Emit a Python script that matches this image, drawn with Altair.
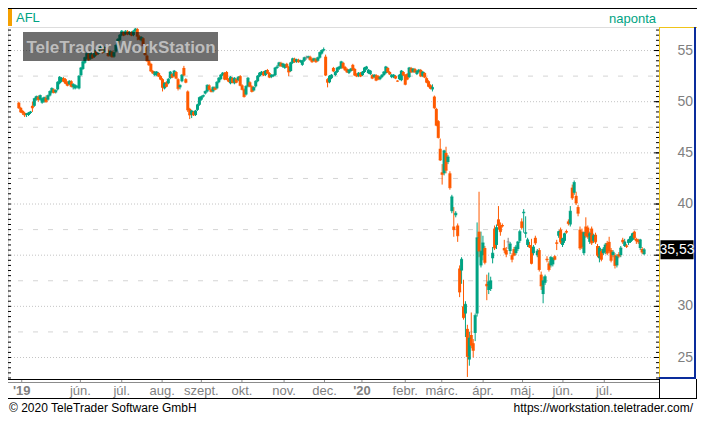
import altair as alt
import pandas as pd
import numpy as np

# ---------------- data ----------------
opens = [
49.9,49.4,49.1,48.9,48.7,48.7,48.9,49.6,49.6,50.2,
50.5,50.2,49.9,50.0,50.4,50.2,50.6,50.9,51.2,50.9,
51.2,51.8,52.0,52.3,52.2,51.9,51.7,52.0,51.4,51.3,
51.4,51.3,52.6,53.2,53.8,54.2,54.7,54.2,54.6,54.4,
55.0,54.7,55.1,55.2,54.9,55.3,55.0,54.5,54.9,54.4,
54.9,55.5,56.0,56.5,56.8,56.6,56.9,56.6,56.8,56.5,
56.9,57.1,56.4,56.0,56.2,55.5,54.5,54.0,53.7,53.0,
52.6,52.6,52.8,52.5,52.2,51.3,51.9,51.8,52.3,52.7,
52.5,52.9,52.2,51.4,52.0,53.3,52.2,51.0,49.3,48.7,
49.0,48.7,49.2,49.7,50.2,50.5,50.8,51.0,51.6,51.2,
51.0,51.4,51.3,51.9,52.2,52.6,52.8,52.9,52.2,51.8,
52.3,51.8,52.2,52.1,52.5,51.6,51.2,50.7,51.5,51.9,
51.5,51.1,51.5,52.0,52.5,52.7,52.9,52.6,53.1,52.8,
52.4,52.5,52.6,53.3,53.5,53.8,53.4,53.3,53.7,53.4,
53.0,53.8,54.2,53.9,54.1,53.9,53.6,54.0,54.3,54.3,
54.4,54.2,54.0,54.2,54.0,54.3,54.7,55.0,54.4,52.2,
51.9,52.3,53.3,52.6,52.9,53.2,53.3,53.8,53.4,53.2,
52.8,53.0,53.6,53.2,52.7,52.5,52.8,52.6,52.9,53.2,
52.8,52.7,52.6,52.4,52.6,52.5,52.2,52.4,52.6,52.8,
53.3,52.9,52.4,52.4,52.5,52.05,52.2,52.1,52.9,52.6,
52.7,52.4,53.3,52.9,53.2,52.7,52.9,53.1,52.5,52.8,
52.3,52.0,51.6,51.2,50.5,49.3,48.1,45.4,43.1,43.0,
45.0,44.1,43.0,39.3,37.8,38.9,37.9,33.7,33.5,30.0,
29.3,27.8,24.8,27.2,26.4,27.4,29.3,37.3,34.0,35.0,
35.7,32.2,31.6,31.7,34.7,37.6,36.0,38.5,37.9,37.95,
35.7,35.5,36.3,35.4,35.0,35.6,35.2,35.6,36.4,38.3,
39.1,37.1,36.0,36.0,35.8,35.2,36.7,35.0,35.5,33.1,
31.2,32.3,34.65,34.2,34.0,34.1,34.9,36.25,36.9,37.5,
36.0,36.4,37.35,38.3,38.0,41.6,41.1,40.8,39.7,37.5,
37.3,35.2,37.8,37.7,36.3,37.6,36.4,37.0,35.9,34.7,
35.4,35.2,35.3,36.2,36.3,35.5,35.0,35.0,34.0,35.1,
35.0,36.5,35.9,35.95,36.2,36.3,36.5,37.3,36.6,36.5,
35.7,35.6,35.1]

highs = [
50.0,49.5,49.2,49.0,48.9,49.0,49.1,50.0,50.4,50.6,
50.6,50.7,50.4,50.5,50.6,50.7,51.1,51.4,51.3,51.2,
52.0,52.5,52.4,52.4,52.3,52.0,52.1,52.1,51.8,51.7,
51.6,52.6,53.4,54.0,54.4,54.8,54.8,54.9,54.7,55.1,
55.2,55.2,55.5,55.3,55.4,55.4,55.1,55.0,55.0,54.9,
55.6,56.2,56.6,57.0,56.9,57.0,57.0,56.9,56.9,57.0,
57.2,57.2,56.5,56.4,56.3,55.6,54.6,54.1,53.8,53.1,
53.0,53.0,52.9,52.6,52.3,51.9,52.0,52.3,53.0,52.8,
53.1,53.0,52.3,51.7,52.7,53.5,52.3,51.1,49.4,49.2,
49.1,49.2,49.8,50.5,50.6,50.7,51.1,51.7,51.7,51.3,
51.5,51.5,52.0,52.4,52.7,52.9,52.9,53.0,52.3,52.5,
52.4,52.4,52.3,52.5,52.6,51.7,51.3,51.6,52.4,52.0,
51.6,51.5,52.1,52.6,52.9,53.0,53.0,53.1,53.2,52.9,
52.7,52.7,53.4,53.6,53.9,53.9,53.8,53.7,53.8,53.5,
53.9,54.3,54.3,54.2,54.2,54.1,54.1,54.4,54.5,54.5,
54.5,54.3,54.3,54.3,54.4,54.9,55.1,55.3,54.6,52.3,
52.6,52.7,53.4,53.0,53.4,53.5,54.0,53.9,53.5,53.3,
53.2,53.3,53.7,53.3,52.8,52.9,52.9,53.0,53.4,53.5,
53.2,53.1,52.7,52.7,52.7,52.6,52.5,52.7,53.0,53.5,
53.4,53.0,52.7,52.7,52.6,52.1,52.7,53.1,53.0,52.7,
52.8,53.4,53.4,53.3,53.3,53.1,53.2,53.2,53.0,52.9,
52.4,52.1,51.7,51.7,50.6,49.4,48.2,46.4,43.9,45.3,
45.6,44.8,43.2,40.9,39.7,39.3,38.1,34.0,34.8,32.6,
30.5,28.2,27.5,29.4,26.8,29.3,38.2,41.2,37.3,36.9,
35.9,33.1,33.3,32.9,35.8,37.9,38.0,39.8,38.2,38.1,
36.5,35.8,36.7,36.3,35.2,35.8,36.0,36.4,37.5,38.6,
39.5,38.8,36.7,36.3,36.6,36.0,36.9,35.6,35.7,33.4,
32.9,33.1,34.9,34.4,34.9,34.8,35.0,36.5,37.4,37.7,
36.7,37.2,37.5,38.5,39.8,41.9,42.3,41.2,39.9,37.8,
37.6,37.3,38.7,37.9,37.3,37.8,37.1,37.2,36.1,35.9,
35.6,35.8,36.2,36.4,36.8,35.7,35.5,35.2,35.1,35.3,
35.9,36.7,36.6,36.1,36.6,36.9,37.2,37.4,36.7,36.6,
36.6,35.8,35.7]

lows = [
49.3,48.9,48.7,48.5,48.5,48.6,48.8,49.0,49.5,50.1,
50.0,50.1,49.8,49.9,49.9,50.1,50.5,50.8,50.8,50.8,
51.1,51.7,51.9,51.9,51.7,51.5,51.6,51.4,51.2,51.2,
51.3,51.2,52.5,53.1,53.7,54.1,54.0,54.1,54.2,54.3,
54.5,54.6,55.0,54.7,54.8,54.9,54.4,54.4,54.3,54.3,
54.8,55.4,55.9,56.4,56.4,56.5,56.5,56.5,56.4,56.4,
56.8,56.0,56.0,55.9,55.4,54.5,53.9,53.5,52.9,52.7,
52.5,52.5,52.4,52.1,51.0,51.2,51.4,51.7,52.2,52.3,
52.4,52.2,51.1,51.2,51.9,52.5,51.8,49.0,48.3,48.4,
48.6,48.6,49.1,49.6,50.1,50.4,50.7,50.9,51.1,50.9,
50.9,51.1,51.2,51.8,52.1,52.5,52.1,52.1,51.9,51.7,
51.8,51.7,51.8,52.0,51.5,51.1,50.4,50.6,51.4,51.4,
50.9,51.0,51.4,51.9,52.4,52.6,52.5,52.5,52.7,52.3,
52.3,52.4,52.5,53.2,53.4,53.4,53.3,53.2,53.3,52.5,
52.9,53.7,53.8,53.8,53.8,53.8,53.5,53.9,54.1,54.2,
54.0,53.8,53.9,53.8,53.9,54.2,54.6,54.9,52.5,51.4,
51.8,52.2,52.9,52.5,52.8,53.1,53.2,53.2,53.0,52.8,
52.7,52.9,53.0,52.5,52.4,52.4,52.4,52.5,52.8,53.1,
52.7,52.6,52.2,52.3,52.0,52.1,52.1,52.3,52.5,52.7,
52.8,52.6,52.3,52.3,52.2,51.95,52.1,52.0,52.5,51.6,
52.1,52.3,52.8,52.8,52.8,52.6,52.8,52.4,52.4,52.3,
51.8,51.4,51.2,51.0,49.3,47.6,46.4,44.2,41.9,42.8,
43.0,43.9,41.4,39.1,36.8,38.7,36.3,30.9,32.2,28.7,
27.0,23.1,24.2,25.9,25.0,26.6,29.0,34.8,33.8,34.5,
34.1,30.6,31.2,31.5,34.2,35.5,35.6,37.5,36.9,37.7,
35.2,34.8,35.6,35.1,34.3,34.9,35.0,35.4,36.2,37.5,
37.2,36.7,35.8,35.7,34.1,35.0,36.0,34.8,33.4,31.6,
30.3,32.1,34.3,33.4,33.8,33.9,34.5,35.5,36.7,36.1,
35.8,36.2,37.1,37.9,37.8,40.4,40.9,39.9,38.8,35.5,
35.6,35.0,36.7,36.6,36.1,36.0,36.2,36.1,34.8,34.3,
34.4,35.0,35.1,35.0,35.2,34.3,34.8,33.7,33.8,34.7,
34.8,36.1,35.8,35.7,36.0,36.2,36.4,36.5,36.1,36.1,
35.5,35.1,35.0]

closes = [
49.4,49.0,48.9,48.7,48.8,48.9,49.0,49.4,50.3,50.5,
50.2,50.6,50.3,50.4,50.0,50.6,51.0,51.3,50.9,51.1,
51.9,52.4,52.3,52.0,51.8,51.6,52.0,51.5,51.7,51.6,
51.5,52.5,53.3,53.9,54.3,54.7,54.1,54.8,54.3,55.0,
54.6,55.1,55.3,54.8,55.3,55.0,54.5,54.9,54.4,54.8,
55.5,56.1,56.5,56.9,56.5,56.9,56.6,56.8,56.5,56.9,
57.1,56.4,56.1,56.3,55.5,54.6,54.0,53.6,53.0,52.8,
52.9,52.9,52.5,52.2,51.4,51.8,51.5,52.2,52.9,52.4,
53.0,52.3,51.3,51.6,52.6,52.6,51.9,49.2,48.7,49.1,
48.7,49.1,49.7,50.4,50.5,50.6,51.0,51.6,51.2,51.0,
51.4,51.2,51.9,52.3,52.6,52.8,52.2,52.2,52.0,52.4,
51.9,52.3,51.9,52.4,51.6,51.2,50.5,51.5,52.3,51.5,
51.0,51.4,52.0,52.5,52.8,52.9,52.6,53.0,52.8,52.4,
52.6,52.6,53.3,53.4,53.8,53.5,53.7,53.6,53.4,52.9,
53.8,54.2,53.9,54.1,53.9,54.0,54.0,54.3,54.3,54.4,
54.1,53.9,54.2,53.9,54.3,54.8,55.0,55.1,52.6,51.9,
52.5,52.6,53.0,52.9,53.3,53.4,53.9,53.3,53.1,52.9,
53.1,53.2,53.1,52.6,52.5,52.8,52.5,52.9,53.3,53.4,
53.1,53.0,52.3,52.6,52.1,52.2,52.4,52.6,52.9,53.4,
52.9,52.7,52.6,52.6,52.3,52.0,52.6,53.0,52.6,51.7,
52.2,53.3,52.9,53.2,52.9,53.0,53.1,52.5,52.9,52.4,
51.9,51.5,51.3,51.4,49.4,47.7,46.5,44.3,42.9,45.2,
43.3,44.6,41.6,40.7,37.5,39.1,36.9,31.4,34.6,28.9,
30.2,25.1,26.9,26.2,25.7,29.1,36.7,35.4,35.4,36.2,
34.3,32.0,32.4,32.5,35.2,35.7,37.7,37.9,37.3,37.85,
35.5,35.1,36.3,36.1,34.6,35.0,35.8,36.3,37.3,37.7,
39.2,37.2,36.5,35.8,34.2,35.8,36.2,35.4,33.6,32.0,
32.5,32.9,34.55,33.6,34.8,34.7,34.6,36.15,37.3,36.3,
36.6,37.1,37.25,38.1,39.3,40.6,42.1,40.1,39.1,35.7,
35.8,37.2,36.9,36.8,37.1,36.2,36.9,36.3,35.0,35.7,
34.6,35.6,36.0,35.2,35.4,34.5,35.3,34.0,34.9,34.9,
35.7,36.3,36.3,35.85,36.5,36.8,37.1,36.7,36.4,36.3,
36.5,35.3,35.53]

last_price = 35.53
last_label = "35,53"
# the 35 label sits under the last-price box in the reference
y_labels = [25, 30, 40, 45, 50, 55]
grid_major = [25, 30, 35, 40, 45, 50, 55]
grid_minor = [27.5, 32.5, 37.5, 42.5, 47.5, 52.5]
month_pos = [1.5, 31.7, 53.0, 73.8, 94.0, 114.9, 136.6, 157.4, 176.7, 199.0,
             217.8, 239.1, 259.4, 280.2, 301.5]
month_lbl = ["'19", "jún.", "júl.", "aug.", "szept.", "okt.", "nov.", "dec.",
             "'20", "febr.", "márc.", "ápr.", "máj.", "jún.", "júl."]
month_year = [True, False, False, False, False, False, False, False,
              True, False, False, False, False, False, False]

# ---------------- styling ----------------
TEAL = "#00A383"
ORANGE = "#FF5A00"
DOJI = "#808080"
LABEL_GRAY = "#7f7f7f"
FONT = "Liberation Sans"
W, H = 651, 352          # plot area
PANEL = 38               # right axis panel width

n = min(len(opens), len(highs), len(lows), len(closes))
df = pd.DataFrame({
    "i": np.arange(n),
    "open": opens[:n], "high": highs[:n], "low": lows[:n], "close": closes[:n],
})
df["dir"] = np.where(df["close"] > df["open"], "up",
                     np.where(df["close"] < df["open"], "down", "flat"))

xscale = alt.Scale(domain=[-3, 327.1], nice=False, zero=False)
yscale = alt.Scale(domain=[22.9, 57.3], nice=False, zero=False)
cscale = alt.Scale(domain=["up", "down", "flat"], range=[TEAL, ORANGE, DOJI])

one = pd.DataFrame({"a": [0]})

# grid lines
g_major = alt.Chart(pd.DataFrame({"v": grid_major})).mark_rule(
    color="#c4c4c4", strokeDash=[1, 2], strokeWidth=1).encode(
    y=alt.Y("v:Q", scale=yscale, axis=None), x=alt.value(0), x2=alt.value(W))
g_minor = alt.Chart(pd.DataFrame({"v": grid_minor})).mark_rule(
    color="#d4d4d4", strokeDash=[5, 10], strokeWidth=1).encode(
    y=alt.Y("v:Q", scale=yscale, axis=None), x=alt.value(10), x2=alt.value(W))

base = alt.Chart(df).encode(x=alt.X("i:Q", scale=xscale, axis=None))
wicks = base.mark_rule(strokeWidth=1).encode(
    y=alt.Y("low:Q", scale=yscale, axis=None), y2="high:Q",
    color=alt.Color("dir:N", scale=cscale, legend=None))
bodies = base.mark_bar(size=3).encode(
    y=alt.Y("open:Q", scale=yscale, axis=None), y2="close:Q",
    color=alt.Color("dir:N", scale=cscale, legend=None))
closes_tick = base.mark_tick(orient="horizontal", size=3, thickness=1).encode(
    y=alt.Y("close:Q", scale=yscale, axis=None),
    color=alt.Color("dir:N", scale=cscale, legend=None))

# watermark
wm_box = alt.Chart(one).mark_rect(color="black", opacity=0.57).encode(
    x=alt.value(15), x2=alt.value(210), y=alt.value(5), y2=alt.value(34))
wm_txt = alt.Chart(one).mark_text(
    text="TeleTrader WorkStation", font="Liberation Sans Narrow, Liberation Sans",
    fontSize=17, fontWeight="bold", color="#bdbdbd",
    align="center", baseline="alphabetic").encode(
    x=alt.value(113), y=alt.value(26))

# right axis ticks (inside the plot edge)
tick_vals = list(np.arange(23.0, 57.01, 0.5))
r_ticks = alt.Chart(pd.DataFrame({"v": tick_vals})).mark_rule(color="black").encode(
    y=alt.Y("v:Q", scale=yscale, axis=None), x=alt.value(W - 3), x2=alt.value(W))
r_major = alt.Chart(pd.DataFrame({"v": grid_major})).mark_rule(color="black").encode(
    y=alt.Y("v:Q", scale=yscale, axis=None), x=alt.value(W - 5), x2=alt.value(W))
l_ticks = alt.Chart(pd.DataFrame({"v": tick_vals})).mark_rule(color="black").encode(
    y=alt.Y("v:Q", scale=yscale, axis=None), x=alt.value(0), x2=alt.value(3))

y_text = alt.Chart(pd.DataFrame({"v": y_labels})).mark_text(
    font=FONT, fontSize=14, color=LABEL_GRAY, align="right", baseline="middle").encode(
    y=alt.Y("v:Q", scale=yscale, axis=None), x=alt.value(W + PANEL - 4),
    text=alt.Text("v:Q", format="d"))

# right panel borders
yel_v = alt.Chart(one).mark_rule(color="#F0C419", strokeWidth=1).encode(
    x=alt.value(W + 0.5), y=alt.value(0), y2=alt.value(H))
yel_h = alt.Chart(one).mark_rule(color="#F0C419", strokeWidth=1).encode(
    x=alt.value(W), x2=alt.value(W + PANEL), y=alt.value(0.5))
blue_v = alt.Chart(one).mark_rule(color="#0A2C9C", strokeWidth=2).encode(
    x=alt.value(W + PANEL - 2), y=alt.value(0), y2=alt.value(H))
blue_h = alt.Chart(one).mark_rule(color="#0A2C9C", strokeWidth=2).encode(
    x=alt.value(W), x2=alt.value(W + PANEL - 1), y=alt.value(H - 1))

# last price box
lp = pd.DataFrame({"p": [last_price], "t": [last_label]})
lp_box = alt.Chart(lp).mark_point(shape="M-1,-0.58H1V0.58H-1Z", filled=True, color="black",
                                   opacity=1, size=1089).encode(
    x=alt.value(W + 18), y=alt.Y("p:Q", scale=yscale, axis=None))
lp_txt = alt.Chart(lp).mark_text(font=FONT, fontSize=14, color="white",
                                 align="center", baseline="middle").encode(
    x=alt.value(W + 18), y=alt.Y("p:Q", scale=yscale, axis=None), text="t:N")

# bottom band
b_black = alt.Chart(one).mark_rule(color="black").encode(
    x=alt.value(0), x2=alt.value(W), y=alt.value(H + 0.5))
b_gray = alt.Chart(one).mark_rule(color="#8c8c8c").encode(
    x=alt.value(0), x2=alt.value(W), y=alt.value(H + 3.5))
b_bottom = alt.Chart(one).mark_rule(color="black").encode(
    x=alt.value(0), x2=alt.value(W + PANEL), y=alt.value(H + 19.5))
b_box = alt.Chart(one).mark_rule(color="black").encode(
    x=alt.value(W + PANEL - 0.5), y=alt.value(H), y2=alt.value(H + 20))
b_box2 = alt.Chart(one).mark_rule(color="black").encode(
    x=alt.value(W + 0.5), y=alt.value(H), y2=alt.value(H + 20))

mdf = pd.DataFrame({"pos": month_pos, "lbl": month_lbl, "yr": month_year})
m_ticks = alt.Chart(mdf).mark_rule(color="#8c8c8c").encode(
    x=alt.X("pos:Q", scale=xscale, axis=None), y=alt.value(H + 1), y2=alt.value(H + 4))
m_text = alt.Chart(mdf).transform_filter("!datum.yr").mark_text(
    font=FONT, fontSize=13, color=LABEL_GRAY, baseline="alphabetic", align="center").encode(
    x=alt.X("pos:Q", scale=xscale, axis=None), y=alt.value(H + 16), text="lbl:N")
y_yr = alt.Chart(mdf).transform_filter("datum.yr").mark_text(
    font=FONT, fontSize=13, fontWeight="bold", color=LABEL_GRAY, baseline="alphabetic",
    align="center").encode(
    x=alt.X("pos:Q", scale=xscale, axis=None), y=alt.value(H + 16), text="lbl:N")

# header
top_line = alt.Chart(one).mark_rule(color="black").encode(
    x=alt.value(0), x2=alt.value(W + PANEL), y=alt.value(-18.5))
hdr_bar = alt.Chart(one).mark_rect(color="#F5A000").encode(
    x=alt.value(0), x2=alt.value(4), y=alt.value(-18), y2=alt.value(-1))
hdr_sym = alt.Chart(one).mark_text(text="AFL", font=FONT, fontSize=13, color=TEAL,
                                   align="left", baseline="alphabetic").encode(
    x=alt.value(8), y=alt.value(-5))
hdr_per = alt.Chart(one).mark_text(text="naponta", font=FONT, fontSize=13, color=TEAL,
                                   align="right", baseline="alphabetic").encode(
    x=alt.value(W - 3), y=alt.value(-4))

# footer
f_left = alt.Chart(one).mark_text(text="© 2020 TeleTrader Software GmbH", font=FONT,
                                  fontSize=12, color="black", align="left",
                                  baseline="alphabetic").encode(
    x=alt.value(1), y=alt.value(H + 33))
f_right = alt.Chart(one).mark_text(text="https://workstation.teletrader.com/", font=FONT,
                                   fontSize=12, color="black", align="right",
                                   baseline="alphabetic").encode(
    x=alt.value(W + PANEL - 4), y=alt.value(H + 33))

chart = alt.layer(
    g_major, g_minor, wicks, bodies, closes_tick,
    wm_box, wm_txt,
    r_ticks, r_major, l_ticks, y_text,
    yel_v, yel_h, blue_v, blue_h, lp_box, lp_txt,
    b_black, b_gray, b_bottom, b_box, b_box2, m_ticks, m_text, y_yr,
    top_line, hdr_bar, hdr_sym, hdr_per, f_left, f_right,
).properties(
    width=W, height=H,
    padding={"left": 0, "top": 19, "right": PANEL, "bottom": 37},
    autosize=alt.AutoSizeParams(type="none"),
).configure_view(stroke=None).configure(background="white")

chart.save("out.html", embed_options={"renderer": "svg", "actions": False})
